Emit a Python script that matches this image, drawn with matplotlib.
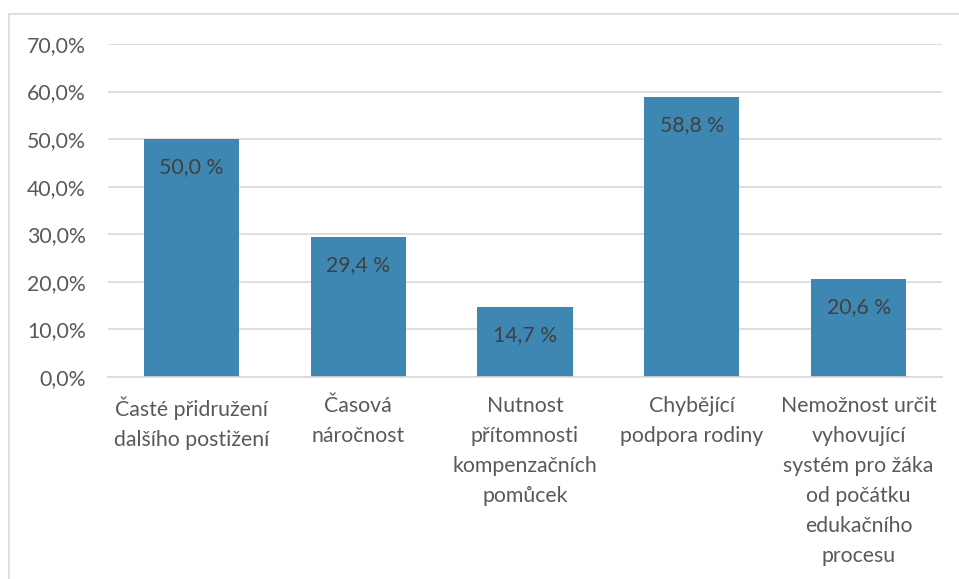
import matplotlib
matplotlib.use("Agg")
import matplotlib.pyplot as plt
from matplotlib.lines import Line2D
import numpy as np

categories = [
    "Časté přidružení\ndalšího postižení",
    "Časová\nnáročnost",
    "Nutnost\npřítomnosti\nkompenzačních\npomůcek",
    "Chybějící\npodpora rodiny",
    "Nemožnost určit\nvyhovující\nsystém pro žáka\nod počátku\nedukačního\nprocesu",
]
values = [0.500, 0.294, 0.147, 0.588, 0.206]
value_labels = ["50,0 %", "29,4 %", "14,7 %", "58,8 %", "20,6 %"]
yticks = [0.0, 0.1, 0.2, 0.3, 0.4, 0.5, 0.6, 0.7]
ytick_labels = ["0,0%", "10,0%", "20,0%", "30,0%", "40,0%", "50,0%", "60,0%", "70,0%"]

plt.rcParams['font.family'] = ['Lato', 'DejaVu Sans']

W, H = 959, 579
fig = plt.figure(figsize=(W / 100, H / 100), dpi=100)
ax = fig.add_axes([108 / W, 1 - 377 / H, (942 - 108) / W, (377 - 44) / H])

x = np.arange(len(categories))
bars = ax.bar(x, values, width=0.57, color="#3F87B3", zorder=3)

FS = 15.3
ax.set_xlim(-0.5, len(categories) - 0.5)
ax.set_ylim(0, 0.7)
ax.set_yticks(yticks)
ax.set_yticklabels(ytick_labels, fontsize=FS, color="#595959")
ax.set_xticks(x)
ax.set_xticklabels(categories, fontsize=FS, color="#595959", linespacing=1.62, va="top")
ax.tick_params(axis="both", length=0)
ax.tick_params(axis="x", pad=14)
ax.tick_params(axis="y", pad=16)

ax.grid(axis="y", color="#D9D9D9", linewidth=1.2, zorder=0)
for s in ["top", "right", "left"]:
    ax.spines[s].set_visible(False)
ax.spines["bottom"].set_color("#D9D9D9")
ax.spines["bottom"].set_linewidth(1.2)
ax.spines["bottom"].set_zorder(4)

for xi, v, lab in zip(x, values, value_labels):
    ax.annotate(lab, (xi, v), xytext=(0, -28), textcoords="offset pixels",
                ha="center", va="center", fontsize=FS, color="#404040", zorder=5)

# outer chart border (top and left visible)
fig.add_artist(Line2D([9 / W, 1.0], [1 - 14 / H, 1 - 14 / H], transform=fig.transFigure,
                      color="#D9D9D9", linewidth=1.2))
fig.add_artist(Line2D([9 / W, 9 / W], [0, 1 - 14 / H], transform=fig.transFigure,
                      color="#D9D9D9", linewidth=1.2))

fig.savefig("out.png", dpi=100)
